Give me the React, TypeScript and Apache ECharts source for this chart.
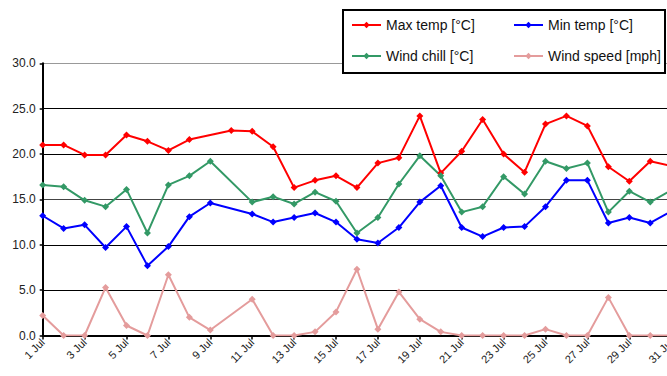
import React, { useEffect, useRef } from "react";
import * as echarts from "echarts";

const days: string[] = Array.from({ length: 31 }, (_, i) => `${i + 1} Jul`);
const maxTemp: (number | null)[] = [21.0, 21.0, 19.9, 19.9, 22.1, 21.4, 20.4, 21.6, null, 22.6, 22.5, 20.8, 16.3, 17.1, 17.6, 16.3, 19.0, 19.6, 24.2, 17.9, 20.3, 23.8, 20.0, 18.0, 23.3, 24.2, 23.1, 18.6, 17.0, 19.2, 18.7];
const minTemp: (number | null)[] = [13.2, 11.8, 12.2, 9.7, 12.0, 7.7, 9.8, 13.1, 14.6, null, 13.4, 12.5, 13.0, 13.5, 12.5, 10.6, 10.2, 11.9, 14.7, 16.5, 11.9, 10.9, 11.9, 12.0, 14.2, 17.1, 17.1, 12.4, 13.0, 12.4, 13.7];
const windChill: (number | null)[] = [16.6, 16.4, 14.9, 14.2, 16.1, 11.3, 16.6, 17.6, 19.2, null, 14.7, 15.3, 14.5, 15.8, 14.8, 11.3, 13.0, 16.7, 19.8, 17.6, 13.6, 14.2, 17.5, 15.6, 19.2, 18.4, 19.0, 13.6, 15.9, 14.7, 16.0];
const windSpeed: (number | null)[] = [2.2, 0, 0, 5.3, 1.1, 0, 6.7, 2.0, 0.6, null, 4.0, 0, 0, 0.4, 2.6, 7.3, 0.7, 4.8, 1.8, 0.4, 0, 0, 0, 0, 0.7, 0, 0, 4.2, 0, 0, 0];

const seriesNames = ["Max temp [°C]", "Min temp [°C]", "Wind chill [°C]", "Wind speed [mph]"];
const seriesColors = ["#FF0000", "#0000FF", "#339966", "#E49C9C"];
const seriesData = [maxTemp, minTemp, windChill, windSpeed];

const FONT = "'Liberation Sans', Arial, sans-serif";

export default function App() {
  const ref = useRef<HTMLDivElement>(null);
  useEffect(() => {
    if (!ref.current) return;
    const chart = echarts.init(ref.current, null, { renderer: "svg" });
    const legendPos = [
      { left: 351, top: 18 },
      { left: 513, top: 18 },
      { left: 351, top: 49 },
      { left: 513, top: 49 },
    ];
    chart.setOption({
      animation: false,
      backgroundColor: "#ffffff",
      grid: {
        left: 42.7,
        top: 63.3,
        width: 628.5,
        height: 272.2,
        containLabel: false,
        outerBoundsMode: "none",
      },
      graphic: [
        {
          type: "rect",
          z: 10,
          shape: { x: 343, y: 10, width: 322, height: 63 },
          style: { fill: "#ffffff", stroke: "#000000", lineWidth: 2 },
        },
      ],
      legend: seriesNames.map((n, i) => ({
        data: [n],
        left: legendPos[i].left,
        top: legendPos[i].top,
        padding: 0,
        itemWidth: 29,
        itemHeight: 8,
        itemGap: 0,
        z: 20,
        selectedMode: false,
        textStyle: { fontSize: 14, fontFamily: FONT, color: "#111" },
      })),
      xAxis: {
        type: "category",
        data: days,
        boundaryGap: false,
        axisLine: { lineStyle: { color: "#000", width: 2 } },
        axisTick: { show: true, interval: 1, length: 4, lineStyle: { color: "#000", width: 1.5 } },
        axisLabel: {
          interval: 1,
          rotate: 45,
          fontSize: 11,
          fontFamily: FONT,
          color: "#222",
          margin: 5,
        },
        splitLine: { show: false },
      },
      yAxis: {
        type: "value",
        min: 0,
        max: 30,
        interval: 5,
        axisLine: { show: true, lineStyle: { color: "#000", width: 2 } },
        axisTick: { show: true, length: 3, lineStyle: { color: "#000", width: 1.5 } },
        axisLabel: {
          fontSize: 12,
          fontFamily: FONT,
          color: "#222",
          margin: 7,
          formatter: (v: number) => v.toFixed(1),
        },
        splitLine: {
          show: true,
          lineStyle: { color: ["#000", "#000", "#000", "#444", "#000", "#000", "#999"], width: 1 },
        },
      },
      series: seriesNames.map((n, i) => ({
        name: n,
        type: "line",
        data: seriesData[i],
        connectNulls: true,
        symbol: "diamond",
        symbolSize: 7,
        showSymbol: true,
        itemStyle: { color: seriesColors[i] },
        lineStyle: { color: seriesColors[i], width: 2 },
        z: 3,
      })),
    });
    return () => chart.dispose();
  }, []);
  return (
    <div
      ref={ref}
      style={{ position: "absolute", left: 0, top: 0, width: 667, height: 376 }}
    />
  );
}
